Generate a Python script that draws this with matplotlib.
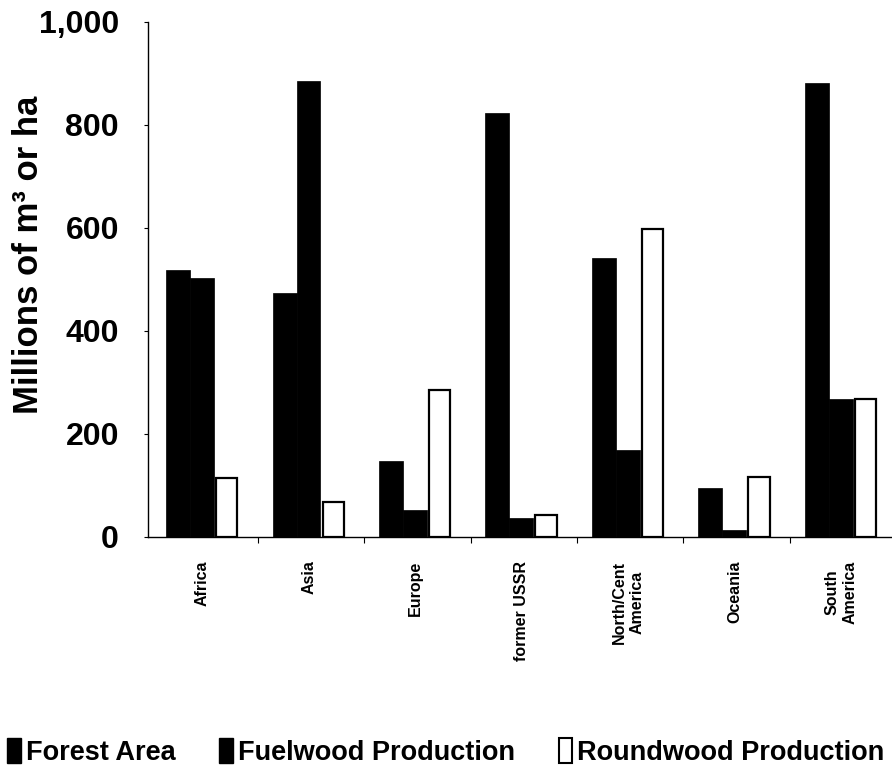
import numpy as np
import matplotlib.pyplot as plt
from matplotlib.patches import Patch

# Regions and values (millions of m3 or ha)
regions = ["Africa", "Asia", "Europe", "former USSR",
           "North/Cent\nAmerica", "Oceania", "South\nAmerica"]
forest_area = [518, 474, 148, 823, 542, 95, 882]
fuelwood = [503, 885, 52, 37, 168, 14, 267]
roundwood = [115, 68, 285, 43, 598, 117, 267]

sans = ["Liberation Sans", "DejaVu Sans"]

fig = plt.figure(figsize=(8.92, 7.77), dpi=100)
ax = fig.add_axes([0.166, 0.309, 0.834, 0.663])

x = np.arange(len(regions))
w = 0.225

ax.bar(x, forest_area, width=w, align="edge", color="black",
       edgecolor="black", linewidth=0.5)
ax.bar(x + w, fuelwood, width=w, align="edge", color="black",
       edgecolor="black", linewidth=0.5)
ax.bar(x + 2 * w + 0.02, roundwood, width=0.2, align="edge", color="white",
       edgecolor="black", linewidth=1.6)

ax.set_xlim(-0.17, 6.82)
ax.set_ylim(0, 1000)

# y axis
ax.set_yticks([0, 200, 400, 600, 800, 1000])
ax.set_yticklabels(["0", "200", "400", "600", "800", "1,000"],
                   family=sans, fontweight="bold", fontsize=23)
ax.tick_params(axis="y", length=3, width=0.8, pad=18)
fig.text(0.032, 0.672, "Millions of m³ or ha", family=sans, fontweight="bold",
         fontsize=25, rotation=90, ha="center", va="center")

# x axis: labels at group centres, small ticks between groups
ax.set_xticks(x + 0.34)
ax.set_xticklabels(regions, rotation=90, family=sans, fontweight="bold",
                   fontsize=11.5, va="top", ha="center")
ax.tick_params(axis="x", length=0, pad=17)
ax.set_xticks(x[1:] - 0.14, minor=True)
ax.tick_params(axis="x", which="minor", length=4, width=0.8)

for s in ["top", "right"]:
    ax.spines[s].set_visible(False)
for s in ["left", "bottom"]:
    ax.spines[s].set_linewidth(1.0)

handles = [
    Patch(facecolor="black", edgecolor="black", label="Forest Area"),
    Patch(facecolor="black", edgecolor="black", label="Fuelwood Production"),
    Patch(facecolor="white", edgecolor="black", linewidth=1.5,
          label="Roundwood Production"),
]
fig.legend(handles=handles, loc="lower center", bbox_to_anchor=(0.5, -0.01),
           ncol=3, frameon=False, handlelength=0.5, handleheight=1.0,
           handletextpad=0.2, columnspacing=1.6, borderpad=0.2,
           prop={"family": sans, "weight": "bold", "size": 19.5})

fig.savefig("out.png", dpi=100)
